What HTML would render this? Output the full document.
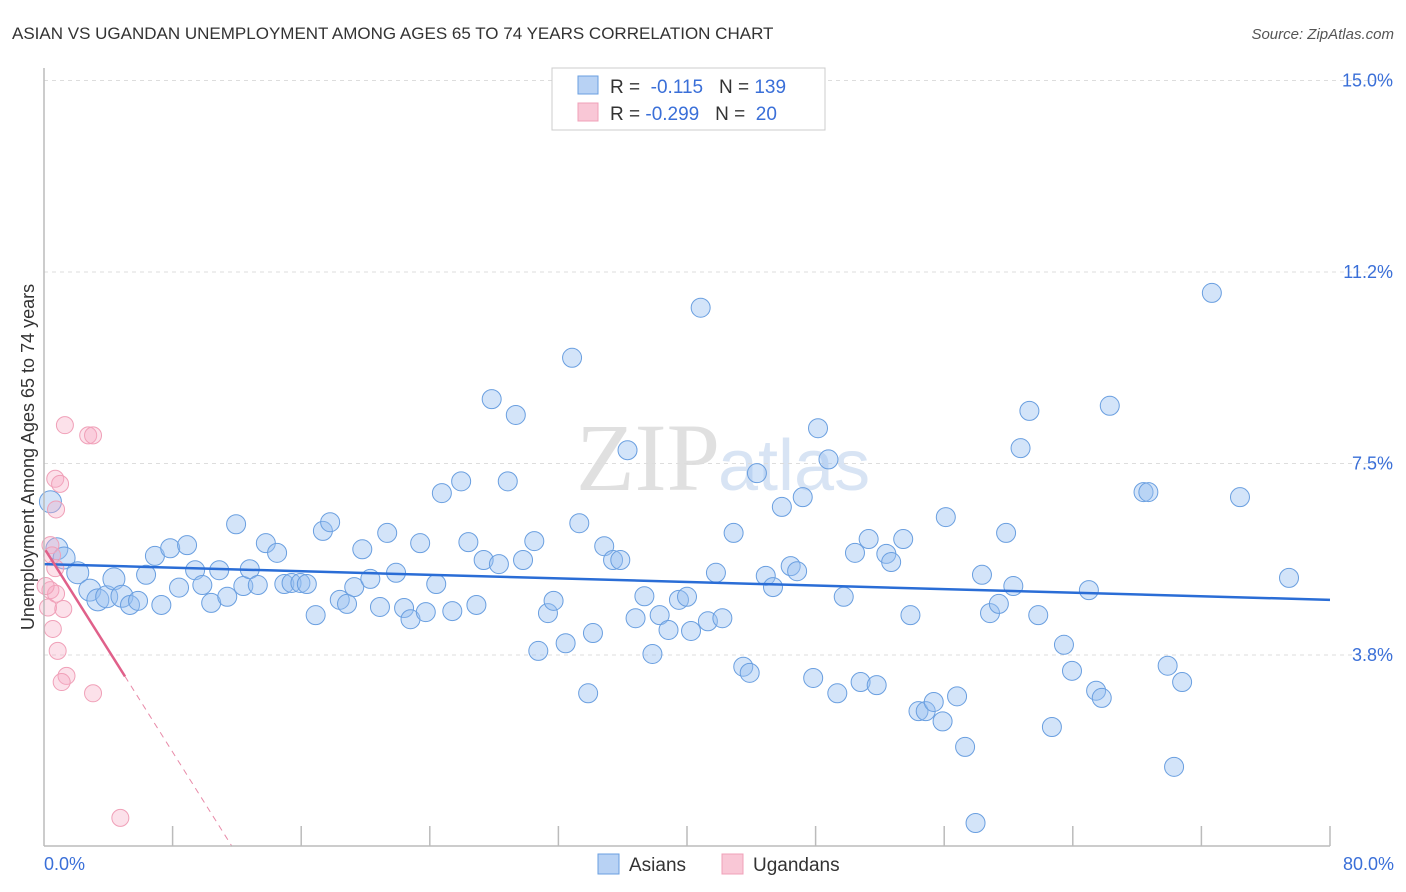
<!DOCTYPE html>
<html><head><meta charset="utf-8"><style>
body{margin:0;background:#fff;font-family:"Liberation Sans",sans-serif;}
#wrap{position:relative;width:1406px;height:892px;overflow:hidden;}
</style></head><body>
<div id="wrap">
<svg id="chart" width="1406" height="892" style="position:absolute;left:0;top:0">
<text x="12" y="39" font-size="17" fill="#333">ASIAN VS UGANDAN UNEMPLOYMENT AMONG AGES 65 TO 74 YEARS CORRELATION CHART</text>
<text x="1394" y="39" font-size="15" fill="#555" font-style="italic" text-anchor="end">Source: ZipAtlas.com</text>
<text x="720" y="490" font-size="96" fill="#e0e0e0" text-anchor="end" font-family="Liberation Serif">ZIP</text>
<text x="718" y="490" font-size="72" fill="#d8e4f4">atlas</text>
<text transform="translate(34,457) rotate(-90)" font-size="18" fill="#333" text-anchor="middle">Unemployment Among Ages 65 to 74 years</text>
<g id="grid"></g><g id="pts"></g><g id="lines"></g>
<line x1="44" y1="68" x2="44" y2="846" stroke="#bbb" stroke-width="1.5"/>
<line x1="44" y1="846" x2="1330" y2="846" stroke="#bbb" stroke-width="1.5"/>
<text x="44" y="870" font-size="18" fill="#3a6fd8">0.0%</text>
<text x="1394" y="870" font-size="18" fill="#3a6fd8" text-anchor="end">80.0%</text>
<rect x="552" y="68" width="273" height="62" fill="#fff" stroke="#ccc"/>
<rect x="578" y="76" width="20" height="18" fill="#b8d2f4" stroke="#6a9fe0"/>
<rect x="578" y="103" width="20" height="18" fill="#f9c7d6" stroke="#f0a0b8"/>
<text x="610" y="93" font-size="19" fill="#333">R = <tspan fill="#3a6fd8">&#160;-0.115</tspan>&#160;&#160;&#160;N = <tspan fill="#3a6fd8">139</tspan></text>
<text x="610" y="120" font-size="19" fill="#333">R = <tspan fill="#3a6fd8">-0.299</tspan>&#160;&#160;&#160;N = <tspan fill="#3a6fd8">&#160;20</tspan></text>
<rect x="598" y="854" width="21" height="20" fill="#b8d2f4" stroke="#6a9fe0"/>
<text x="629" y="871" font-size="19" fill="#333">Asians</text>
<rect x="722" y="854" width="21" height="20" fill="#f9c7d6" stroke="#f0a0b8"/>
<text x="753" y="871" font-size="19" fill="#333">Ugandans</text>
</svg>
</div>
<script>
const yTicks=[3.75,7.5,11.25,15];
const yTickLabels=["3.8%","7.5%","11.2%","15.0%"];
const xTicks=[8,16,24,32,40,48,56,64,72,80];
const asianX=[0.4,0.8,1.25,2.1,2.85,3.35,3.9,4.35,4.85,5.35,5.85,6.35,6.9,7.3,7.85,8.4,8.9,9.4,9.85,10.4,10.9,11.4,11.95,12.4,12.8,13.3,13.8,14.5,14.95,15.4,15.95,16.35,16.9,17.35,17.8,18.4,18.85,19.3,19.8,20.3,20.9,21.35,21.9,22.4,22.8,23.4,23.75,24.4,24.75,25.4,25.95,26.4,26.9,27.35,27.85,28.3,28.85,29.35,29.8,30.5,30.75,31.35,31.7,32.45,32.85,33.3,33.85,34.15,34.85,35.4,35.85,36.3,36.8,37.35,37.85,38.3,38.85,39.5,40.0,40.25,40.85,41.3,41.8,42.2,42.9,43.5,43.9,44.35,44.9,45.35,45.9,46.45,46.85,47.2,47.85,48.15,48.8,49.35,49.75,50.45,50.8,51.3,51.8,52.4,52.7,53.45,53.9,54.4,54.85,55.35,55.9,56.1,56.8,57.3,57.95,58.35,58.85,59.4,59.85,60.3,60.75,61.3,61.85,62.7,63.45,63.95,65.0,65.45,65.8,66.3,68.4,68.7,69.9,70.3,70.8,72.65,74.4,77.45];
const asianY=[6.75,5.83,5.65,5.36,5.02,4.83,4.89,5.24,4.9,4.73,4.81,5.32,5.69,4.73,5.84,5.07,5.9,5.41,5.12,4.77,5.41,4.89,6.31,5.1,5.43,5.12,5.94,5.75,5.14,5.16,5.16,5.14,4.53,6.18,6.35,4.83,4.75,5.08,5.82,5.24,4.69,6.14,5.36,4.67,4.45,5.94,4.59,5.14,6.92,4.61,7.15,5.96,4.73,5.61,8.76,5.53,7.15,8.45,5.61,5.98,3.83,4.57,4.81,3.98,9.57,6.33,3.0,4.18,5.88,5.61,5.61,7.76,4.47,4.9,3.77,4.53,4.24,4.83,4.89,4.22,10.55,4.41,5.36,4.47,6.14,3.52,3.4,7.31,5.3,5.08,6.65,5.49,5.39,6.84,3.3,8.19,7.58,3.0,4.89,5.75,3.22,6.02,3.16,5.73,5.57,6.02,4.53,2.65,2.65,2.83,2.45,6.45,2.94,1.95,0.46,5.32,4.57,4.75,6.14,5.1,7.8,8.53,4.53,2.34,3.95,3.44,5.02,3.05,2.91,8.63,6.94,6.94,3.54,1.56,3.22,10.84,6.84,5.26];
const ugX=[1.3,2.75,3.05,0.7,1.0,0.75,0.4,0.5,0.7,0.4,0.75,0.25,1.2,0.55,0.85,1.4,1.1,3.05,4.75,0.1];
const ugY=[8.25,8.05,8.05,7.2,7.1,6.6,5.9,5.7,5.45,5.02,4.95,4.68,4.65,4.26,3.83,3.34,3.22,3.0,0.56,5.1];
const asianTrend=[5.53,4.83];
const ugTrend=[5.85,-0.5];
const ugSolidEnd=5.04;
const NS="http://www.w3.org/2000/svg";
const sx=v=>44+v*16.075, sy=v=>846.5-v*51.07;
function mk(t,a,p){const e=document.createElementNS(NS,t);for(const k in a)e.setAttribute(k,a[k]);p.appendChild(e);return e;}
const grid=document.getElementById('grid');
yTicks.forEach((v,i)=>{
 const l=mk('line',{x1:44,x2:1392,y1:sy(v),y2:sy(v),stroke:'#ddd','stroke-dasharray':'4,4'},grid);
 
 
 const t=mk('text',{x:1393,y:sy(v)+6,'font-size':18,fill:'#3a6fd8','text-anchor':'end'},grid);
 t.textContent=yTickLabels[i];
 
 
});
xTicks.forEach(v=>{
 const l=mk('line',{x1:sx(v),x2:sx(v),y1:826,y2:846,stroke:'#bbb','stroke-width':1.5},grid);
 
 
});
const pts=document.getElementById('pts');
asianX.forEach((x,i)=>{
 const c=mk('circle',{cx:sx(x),cy:sy(asianY[i]),r:x<5?11:9.5,fill:'rgba(150,190,240,0.42)',stroke:'#6a9fe0','stroke-width':1},pts);
 
 
});
ugX.forEach((x,i)=>{
 const c=mk('circle',{cx:sx(x),cy:sy(ugY[i]),r:8.5,fill:'rgba(245,170,195,0.35)',stroke:'#f0a0b8','stroke-width':1},pts);
 
 
});
const lines=document.getElementById('lines');
const bl=mk('line',{x1:sx(0),y1:sy(asianTrend[0]),x2:sx(80),y2:sy(asianTrend[1]),stroke:'#2a6dd6','stroke-width':2.5},lines);


const uy=x=>ugTrend[0]+ugTrend[1]*x;
const xz=-ugTrend[0]/ugTrend[1];
const ps=mk('line',{x1:sx(0.1),y1:sy(uy(0.1)),x2:sx(ugSolidEnd),y2:sy(uy(ugSolidEnd)),stroke:'#e0608a','stroke-width':2.5},lines);


const pd=mk('line',{x1:sx(ugSolidEnd),y1:sy(uy(ugSolidEnd)),x2:sx(xz),y2:sy(0),stroke:'#e88aa8','stroke-width':1,'stroke-dasharray':'6,5'},lines);


</script>
</body></html>
